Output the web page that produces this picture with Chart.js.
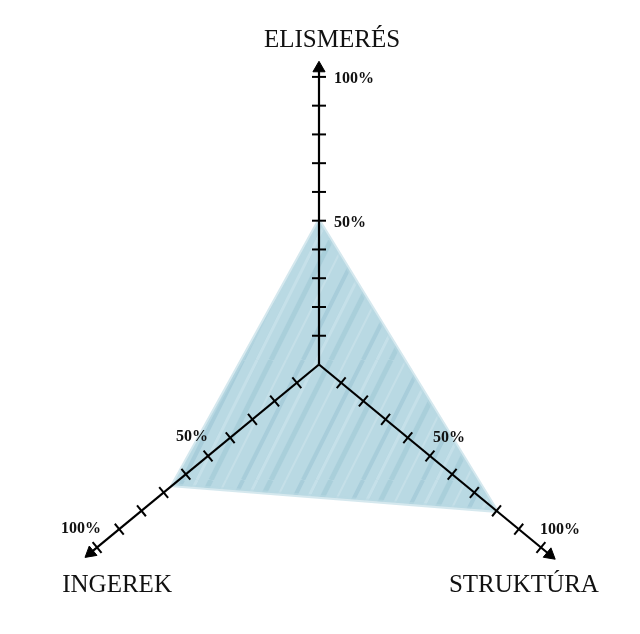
<!DOCTYPE html>
<html>
<head>
<meta charset="utf-8">
<script src="https://cdn.jsdelivr.net/npm/chart.js@4"></script>
<style>
  body { margin: 0; background: #fff; }
  #wrap { width: 640px; height: 634px; }
</style>
</head>
<body>
<div id="wrap"><canvas id="triChart"></canvas></div>
<script>
let categories = ['ELISMERÉS', 'STRUKTÚRA', 'INGEREK'];
let values = [50, 80, 66];
let tickValues = [10, 20, 30, 40, 50, 60, 70, 80, 90, 100];
let labelledTicks = [50, 100];

// axis directions (degrees, counter-clockwise from +x) - the drawing is not a regular 120deg radar
const axisAngles = [90, -39.5, 219.5];
const arrowAt = [103, 104, 103];
const pxPerUnit = 2.876;
const cx = 319, cy = 364.5;

function toXY(angle, v) {
    let a = angle * Math.PI / 180;
    return { x: v * Math.cos(a), y: v * Math.sin(a) };
}

// streaky hand-painted fill, tile 60x120 so the slanted strokes wrap cleanly
function makePattern() {
    let c = document.createElement('canvas');
    c.width = 60; c.height = 120;
    let g = c.getContext('2d');
    g.fillStyle = '#b9d9e3';
    g.fillRect(0, 0, 60, 120);
    let strokes = [[3, 'rgba(128,180,199,0.30)', 4], [17, 'rgba(222,238,243,0.35)', 3],
                   [31, 'rgba(120,174,194,0.24)', 5], [46, 'rgba(226,240,245,0.30)', 2]];
    strokes.forEach(s => {
        g.strokeStyle = s[1];
        g.lineWidth = s[2];
        [-60, 0, 60].forEach(off => {
            g.beginPath();
            g.moveTo(s[0] + off, 120);
            g.lineTo(s[0] + off + 60, 0);
            g.stroke();
        });
    });
    return document.getElementById('triChart').getContext('2d').createPattern(c, 'repeat');
}

let shape = values.map((v, i) => toXY(axisAngles[i], v));
shape.push(shape[0]);

let datasets = [{
    data: shape,
    showLine: true,
    fill: 'shape',
    backgroundColor: makePattern(),
    borderColor: 'rgba(185,217,227,0.6)',
    borderWidth: 4,
    pointRadius: 0,
    order: 10
}];

axisAngles.forEach((ang, i) => {
    datasets.push({
        data: [{ x: 0, y: 0 }, toXY(ang, arrowAt[i])],
        showLine: true,
        borderColor: '#000',
        borderWidth: 2.2,
        pointRadius: 0,
        order: 1
    });
    datasets.push({
        data: tickValues.map(v => toXY(ang, v)),
        pointStyle: 'line',
        pointRadius: 7,
        pointBorderWidth: 2,
        pointBorderColor: '#000',
        pointRotation: 90 - ang,
        order: 0
    });
    datasets.push({
        data: [toXY(ang, arrowAt[i])],
        pointStyle: 'triangle',
        pointRadius: 7,
        pointBackgroundColor: '#000',
        pointBorderColor: '#000',
        pointBorderWidth: 1,
        pointRotation: 90 - ang,
        order: 0
    });
});

// label offsets in px, per axis
let pctOffsets = [[15, 2, 'left'], [19, -18, 'center'], [-16, -19, 'center']];
let catOffsets = [[13, -30], [-17, 45], [20, 45]];

const textPlugin = {
    id: 'axisText',
    afterDraw(chart) {
        let ctx = chart.ctx;
        let xs = chart.scales.x, ys = chart.scales.y;
        ctx.save();
        ctx.fillStyle = '#111';
        axisAngles.forEach((ang, i) => {
            ctx.font = 'bold 16px "Liberation Serif", "Times New Roman", serif';
            ctx.textAlign = pctOffsets[i][2];
            ctx.textBaseline = 'middle';
            labelledTicks.forEach(v => {
                let p = toXY(ang, v);
                ctx.fillText(v + '%', xs.getPixelForValue(p.x) + pctOffsets[i][0], ys.getPixelForValue(p.y) + pctOffsets[i][1]);
            });
            let e = toXY(ang, 100);
            ctx.font = '25px "Liberation Serif", "Times New Roman", serif';
            ctx.textAlign = 'center';
            ctx.textBaseline = 'alphabetic';
            ctx.fillText(categories[i], xs.getPixelForValue(e.x) + catOffsets[i][0], ys.getPixelForValue(e.y) + catOffsets[i][1]);
        });
        ctx.restore();
    }
};

let triChart = new Chart(document.getElementById('triChart'), {
    type: 'scatter',
    data: { datasets: datasets },
    options: {
        maintainAspectRatio: false,
        animation: false,
        layout: { padding: 0, autoPadding: false },
        plugins: { legend: { display: false }, tooltip: { enabled: false } },
        scales: {
            x: { display: false, min: -cx / pxPerUnit, max: (640 - cx) / pxPerUnit },
            y: { display: false, min: -(634 - cy) / pxPerUnit, max: cy / pxPerUnit }
        }
    },
    plugins: [textPlugin]
});
</script>
</body>
</html>
